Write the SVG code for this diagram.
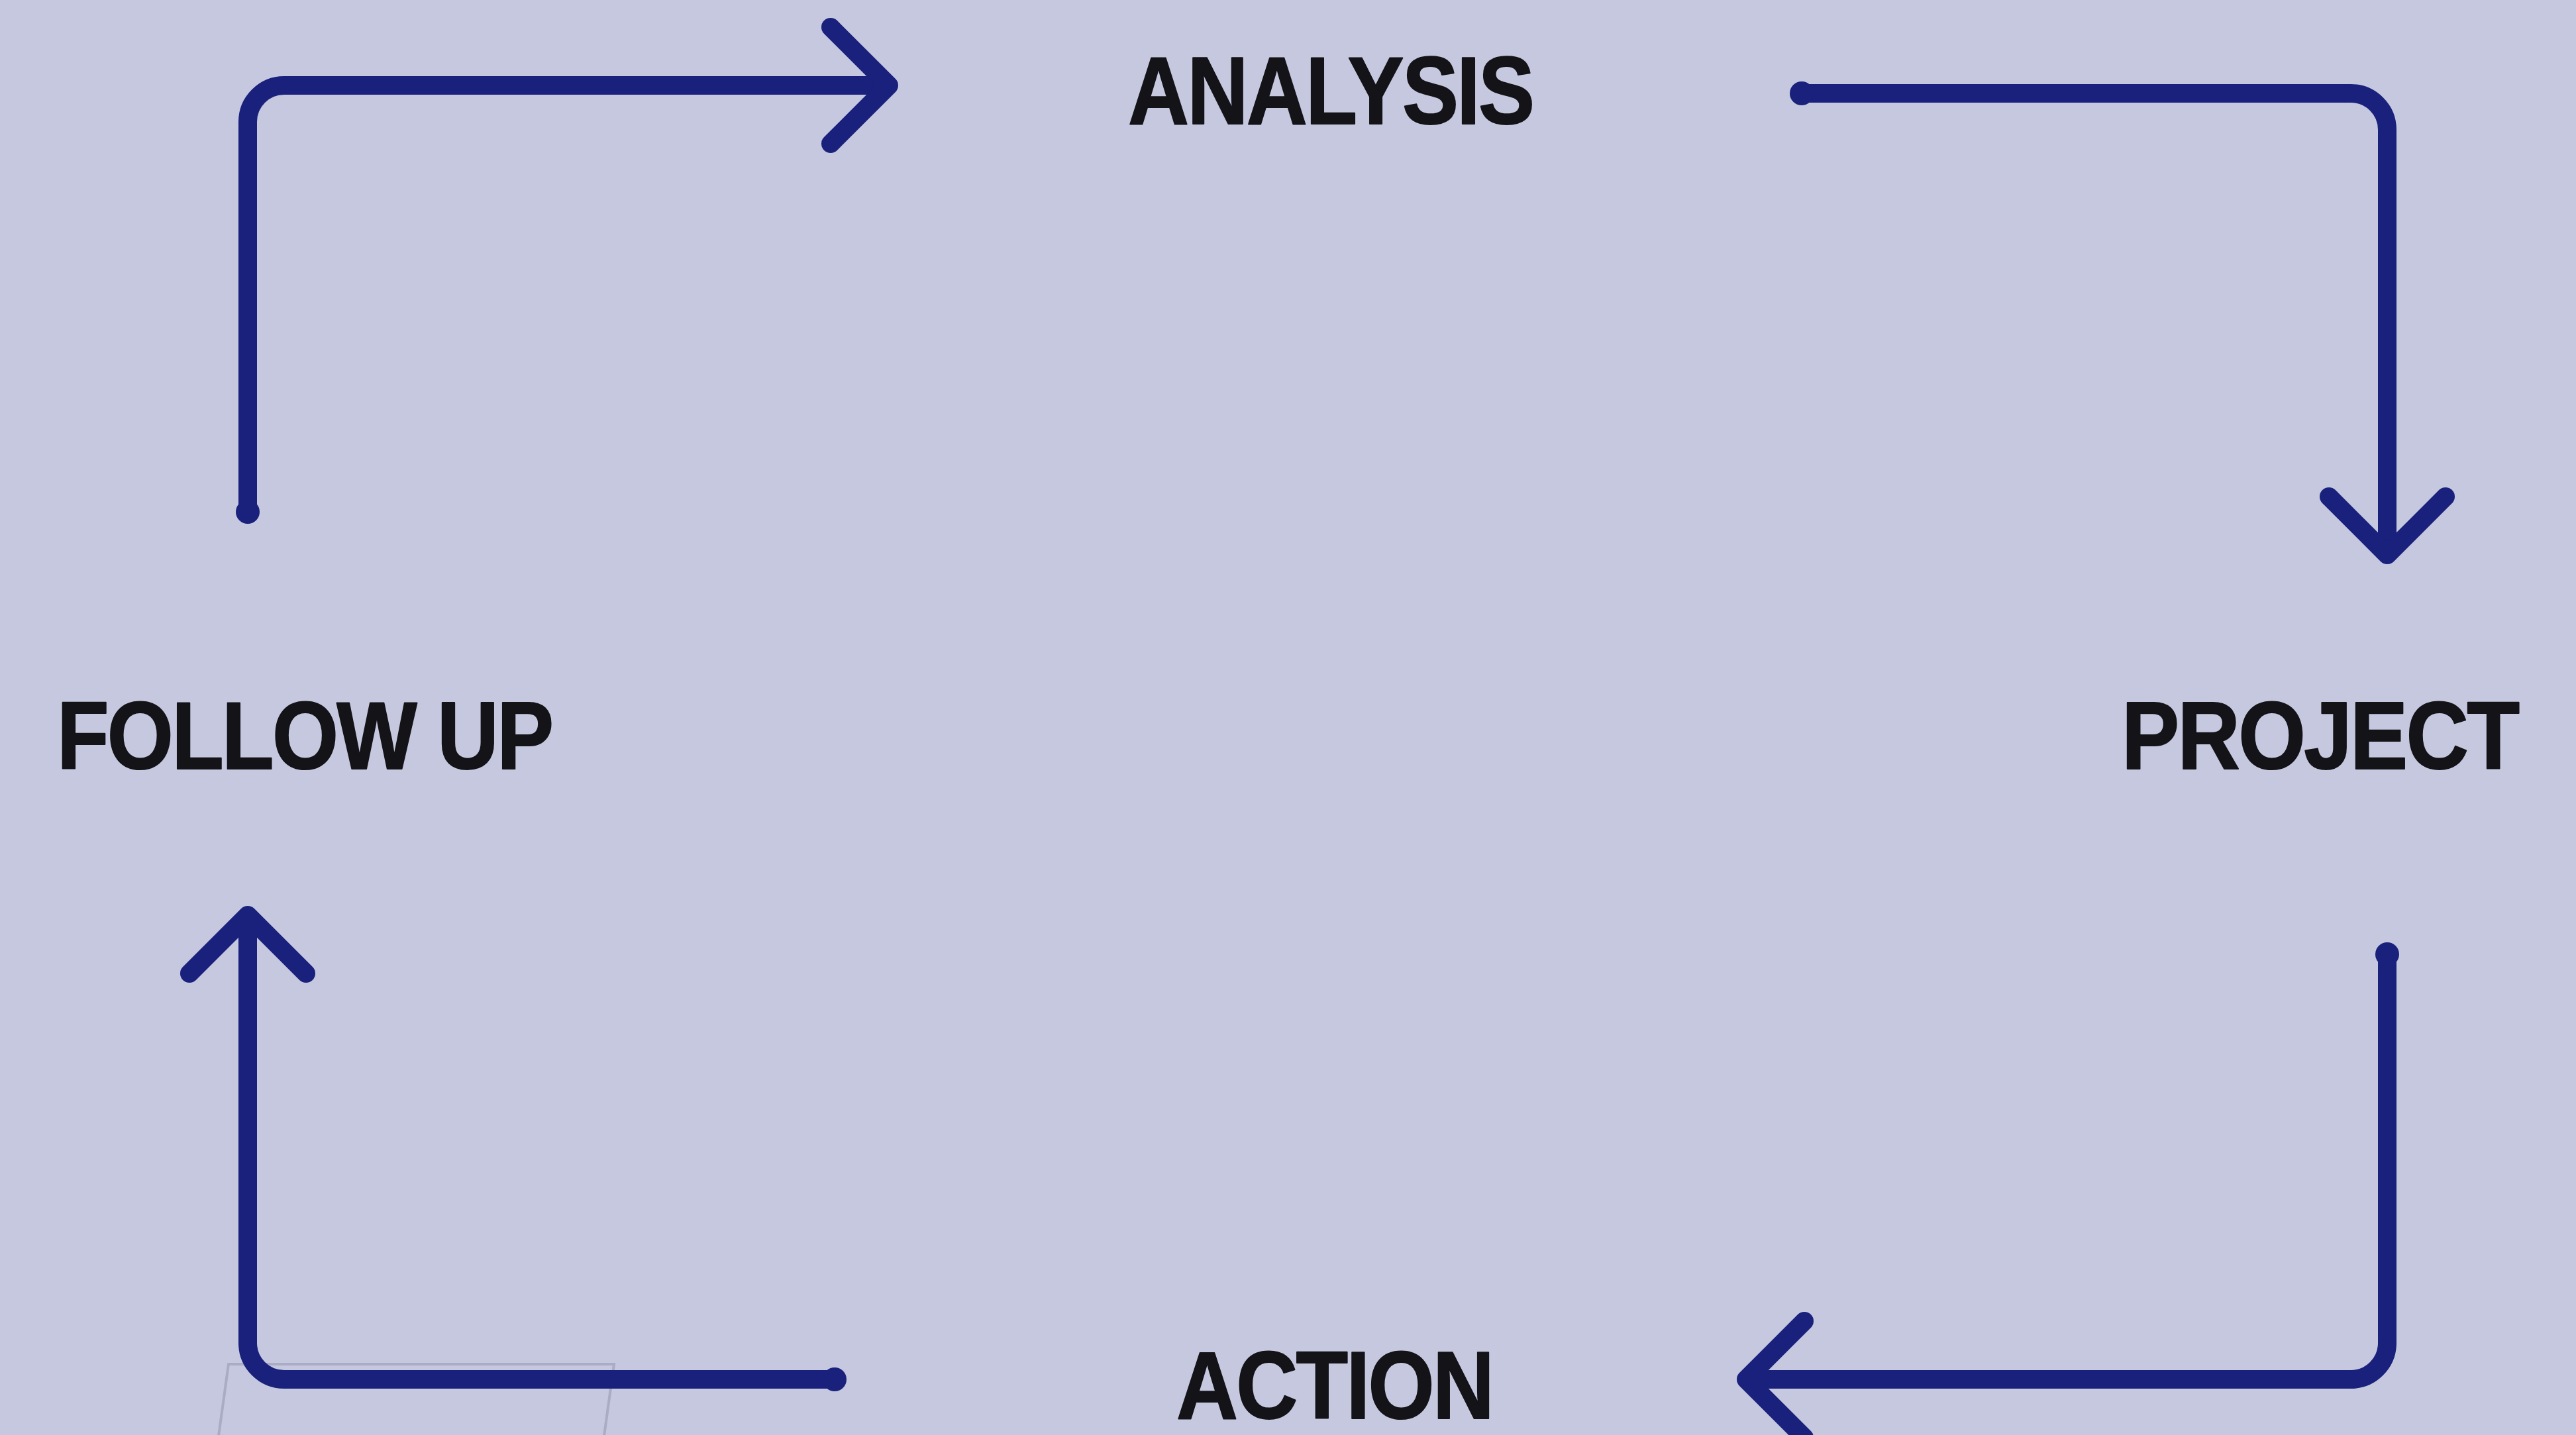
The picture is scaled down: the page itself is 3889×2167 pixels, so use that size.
<svg xmlns="http://www.w3.org/2000/svg" width="3889" height="2167" viewBox="0 0 3889 2167">
  <style>
    .bg { fill: #c5c8df; }
    .conn { fill: none; stroke: #19217c; stroke-width: 28; stroke-linecap: butt; stroke-linejoin: round; }
    .head { fill: none; stroke: #19217c; stroke-width: 28; stroke-linecap: round; stroke-linejoin: round; }
    .dot { fill: #19217c; }
    .label { font-family: "Liberation Sans", Arial, sans-serif; font-weight: 700; font-size: 144px; letter-spacing: -3px; fill: #141318; stroke: #141318; stroke-width: 2; stroke-linejoin: round; }
    .ghost { fill: none; stroke: #a9acc3; stroke-width: 4; }
  </style>
  <rect class="bg" x="0" y="0" width="3889" height="2167"/>
  <polygon class="ghost" points="345,2060 927,2060 909,2190 327,2190"/>

  <g id="connectors">
    <g id="followup-to-analysis">
      <path class="conn" d="M374,773 V184 A55,55 0 0 1 429,129 H1338"/>
      <polyline class="head" points="1254,41 1342,129 1254,217"/>
      <circle class="dot" cx="374" cy="773" r="18"/>
    </g>
    <g id="analysis-to-project">
      <path class="conn" d="M2720,141 H3549 A55,55 0 0 1 3604,196 V834"/>
      <polyline class="head" points="3516,750 3604,838 3692,750"/>
      <circle class="dot" cx="2720" cy="141" r="18"/>
    </g>
    <g id="project-to-action">
      <path class="conn" d="M3604,1441 V2028 A55,55 0 0 1 3549,2083 H2640"/>
      <polyline class="head" points="2724,1995 2636,2083 2724,2171"/>
      <circle class="dot" cx="3604" cy="1441" r="18"/>
    </g>
    <g id="action-to-followup">
      <path class="conn" d="M1260,2083 H429 A55,55 0 0 1 374,2028 V1386"/>
      <polyline class="head" points="286,1470 374,1382 462,1470"/>
      <circle class="dot" cx="1260" cy="2083" r="18"/>
    </g>
  </g>

  <g id="node-analysis">
    <text class="label" transform="translate(1703,187) scale(0.885,1)" x="0" y="0">ANALYSIS</text>
  </g>
  <g id="node-project">
    <text class="label" transform="translate(3203,1161) scale(0.908,1)" x="0" y="0">PROJECT</text>
  </g>
  <g id="node-action">
    <text class="label" transform="translate(1776,2142) scale(0.894,1)" x="0" y="0">ACTION</text>
  </g>
  <g id="node-followup">
    <text class="label" transform="translate(86,1161) scale(0.893,1)" x="0" y="0">FOLLOW UP</text>
  </g>
</svg>
